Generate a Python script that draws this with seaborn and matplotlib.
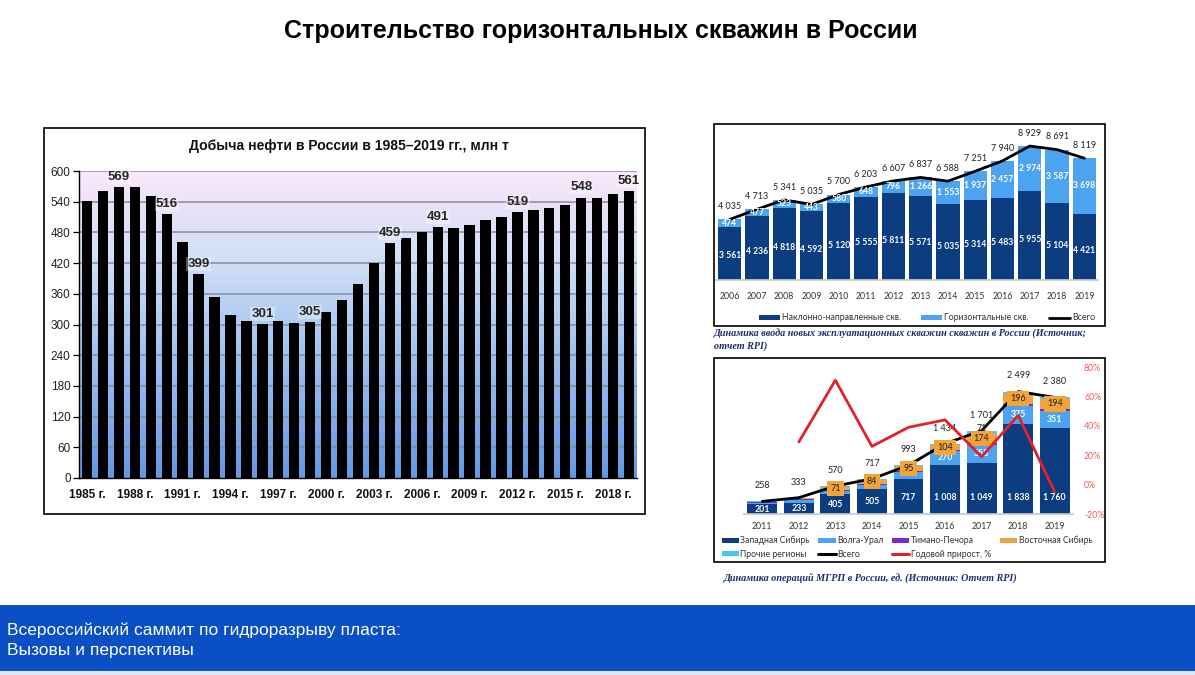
import numpy as np
import matplotlib
matplotlib.use("Agg")
import matplotlib.pyplot as plt
import seaborn as sns
from matplotlib.patches import Rectangle, Patch
from matplotlib.lines import Line2D
from matplotlib.colors import LinearSegmentedColormap

W, H = 1195, 675

# ---------------- data ----------------
oil_years = list(range(1985, 2020))
oil_output = [542, 561, 569, 569, 552, 516, 462, 399, 354, 318, 307, 301, 306, 303,
              305, 324, 348, 380, 421, 459, 470, 480, 491, 488, 494, 505, 511, 519,
              523, 527, 534, 548, 547, 556, 561]
oil_labeled_years = [1987, 1990, 1992, 1996, 1999, 2004, 2007, 2012, 2016, 2019]
oil_tick_years = list(range(1985, 2020, 3))
oil_yticks = list(range(0, 601, 60))

well_years = list(range(2006, 2020))
well_directional = [3561, 4236, 4818, 4592, 5120, 5555, 5811, 5571, 5035, 5314, 5483, 5955, 5104, 4421]
well_horizontal = [474, 477, 523, 443, 580, 648, 796, 1266, 1553, 1937, 2457, 2974, 3587, 3698]
well_total = [4035, 4713, 5341, 5035, 5700, 6203, 6607, 6837, 6588, 7251, 7940, 8929, 8691, 8119]

frac_years = list(range(2011, 2020))
frac_wsib = [201, 233, 405, 505, 717, 1008, 1049, 1838, 1760]
frac_volga = [31, 56, 65, 95, 150, 270, 358, 375, 351]
frac_timan = [8, 14, 18, 20, 12, 30, 49, 40, 40]
frac_esib = [12, 20, 71, 84, 95, 104, 174, 196, 194]
frac_other = [6, 10, 11, 13, 19, 22, 71, 50, 35]
frac_total = [258, 333, 570, 717, 993, 1434, 1701, 2499, 2380]
frac_volga_labeled = [2016, 2017, 2018, 2019]
frac_esib_labeled = [2013, 2014, 2015, 2016, 2017, 2018, 2019]
frac_other_labeled = [2017]
frac_growth_years = list(range(2012, 2020))
frac_growth = [29, 71, 26, 39, 44, 19, 47, -5]
growth_ticks = [-20, 0, 20, 40, 60, 80]

# ---------------- styles ----------------
sns.set_theme(style="white")
plt.rcParams['font.family'] = ['Liberation Sans', 'DejaVu Sans']

C_DARK = '#0b3d80'
C_LIGHT = '#4ca3ef'
C_PURPLE = '#7a2bd0'
C_ORANGE = '#f2a33a'
C_CYAN = '#45c9f0'
C_RED = '#e2202a'
CAP_COLOR = '#1d2d6b'
SMALL_FONT = ['Lato', 'DejaVu Sans']
SERIF = ['Liberation Serif', 'DejaVu Serif']


def rect(x0, y0, x1, y1):
    return [x0 / W, 1 - y1 / H, (x1 - x0) / W, (y1 - y0) / H]


def fmt(v):
    return f"{v:,}".replace(",", " ")


fig = plt.figure(figsize=(W / 100, H / 100), dpi=100)
fig.patch.set_facecolor('white')

# frames
for (x0, y0, x1, y1) in [(44, 128, 645, 514), (714, 124, 1105, 326), (714, 358, 1105, 562)]:
    fig.add_artist(Rectangle((x0 / W, 1 - y1 / H), (x1 - x0) / W, (y1 - y0) / H,
                             transform=fig.transFigure, fill=False,
                             edgecolor='black', lw=1.2))

# banner
fig.add_artist(Rectangle((0, 1 - 671 / H), 1, (671 - 605) / H, transform=fig.transFigure,
                         facecolor='#0a4fc5', edgecolor='none', zorder=0))
fig.add_artist(Rectangle((0, 0), 1, 4 / H, transform=fig.transFigure,
                         facecolor='#dde7f0', edgecolor='none', zorder=0))
fig.text(7 / W, 1 - 630 / H, "Всероссийский саммит по гидроразрыву пласта:",
         color='white', fontsize=12.5, va='center', ha='left')
fig.text(7 / W, 1 - 650 / H, "Вызовы и перспективы",
         color='white', fontsize=12.5, va='center', ha='left')

# main title
fig.text(601 / W, 1 - 31 / H, "Строительство горизонтальных скважин в России",
         ha='center', va='center', fontsize=18, fontweight='bold', color='black')

# ---------------- left chart ----------------
ax1 = fig.add_axes(rect(79, 171, 637, 478))
grad = LinearSegmentedColormap.from_list(
    'bg', [(0.0, '#6597e6'), (0.45, '#a6c6f1'), (0.72, '#d2e0f6'),
           (0.88, '#e8e2f7'), (1.0, '#fbe8fb')])
gimg = np.linspace(0, 1, 256).reshape(-1, 1)
ax1.imshow(gimg, cmap=grad, origin='lower', aspect='auto',
           extent=(-0.5, len(oil_years) - 0.5, 0, 600), zorder=0)
for yv in oil_yticks[1:]:
    ax1.axhline(yv, color='#8a8a9c', lw=1.1, zorder=1)
sns.barplot(x=oil_years, y=oil_output, color='black', saturation=1, width=0.65,
            ax=ax1, zorder=3, edgecolor='none')
for yr in oil_labeled_years:
    i = oil_years.index(yr)
    v = oil_output[i]
    ax1.annotate(str(v), (i, v), xytext=(0, 3), textcoords='offset points',
                 ha='center', va='bottom', fontsize=9.5, fontweight='bold', zorder=5,
                 bbox=dict(facecolor='white', alpha=0.35, edgecolor='none', pad=0.8))
ax1.set_xlim(-0.5, len(oil_years) - 0.5)
ax1.set_ylim(0, 600)
ax1.set_yticks(oil_yticks)
ax1.set_yticklabels([str(v) for v in oil_yticks], fontsize=8.5, color='#222222')
ax1.set_xticks([oil_years.index(y) for y in oil_tick_years])
ax1.set_xticklabels([f"{y} г." for y in oil_tick_years], fontsize=8.5,
                    fontweight='bold', color='#111111')
ax1.set_xticks(np.arange(-0.5, len(oil_years), 1), minor=True)
ax1.tick_params(axis='x', which='major', length=0, pad=8)
ax1.tick_params(axis='x', which='minor', length=4, width=0.9, color='black', direction='out')
ax1.tick_params(axis='y', length=4, width=0.9, color='black', direction='out', pad=2, left=True)
for s in ['top', 'right']:
    ax1.spines[s].set_visible(False)
for s in ['left', 'bottom']:
    ax1.spines[s].set_color('black')
    ax1.spines[s].set_linewidth(1.0)
ax1.set_xlabel('')
ax1.set_ylabel('')
fig.text(349 / W, 1 - 146 / H, "Добыча нефти в России в 1985–2019 гг., млн т",
         ha='center', va='center', fontsize=10.1, fontweight='bold', color='#111111')

# ---------------- top-right chart ----------------
ax2 = fig.add_axes(rect(716, 130, 1098, 280))
sns.barplot(x=well_years, y=well_directional, color=C_DARK, saturation=1, width=0.85,
            ax=ax2, edgecolor='none', zorder=2)
sns.barplot(x=well_years, y=well_horizontal, bottom=well_directional, color=C_LIGHT,
            saturation=1, width=0.85, ax=ax2, edgecolor='none', zorder=2)
pos2 = np.arange(len(well_years))
sns.lineplot(x=pos2, y=well_total, color='black', lw=2, ax=ax2, zorder=4)
for i in range(len(well_years)):
    d, h, t = well_directional[i], well_horizontal[i], well_total[i]
    ax2.text(i, d * 0.45, fmt(d), ha='center', va='center', color='white',
             fontsize=6.2, fontweight='bold', family=SMALL_FONT, zorder=5)
    ax2.text(i, d + h / 2, fmt(h), ha='center', va='center', color='white',
             fontsize=6.2, fontweight='bold', family=SMALL_FONT, zorder=5)
    ax2.annotate(fmt(t), (i, t), xytext=(0, 6), textcoords='offset points',
                 ha='center', va='bottom', color='#222222', fontsize=6.5,
                 family=SMALL_FONT, zorder=5)
ax2.set_xlim(-0.5, len(well_years) - 0.5)
ax2.set_ylim(0, 10000)
ax2.set_yticks([])
ax2.set_xticks(pos2)
ax2.set_xticklabels([str(y) for y in well_years], fontsize=6.3, color='#333333',
                    family=SMALL_FONT)
ax2.tick_params(axis='x', length=0, pad=9)
for s in ['top', 'right', 'left']:
    ax2.spines[s].set_visible(False)
ax2.spines['bottom'].set_color('#c8c8c8')
ax2.set_facecolor('none')
ax2.set_xlabel('')
ax2.set_ylabel('')
h2 = [Patch(facecolor=C_DARK, edgecolor='none'), Patch(facecolor=C_LIGHT, edgecolor='none'),
      Line2D([0], [0], color='black', lw=2)]
fig.legend(h2, ["Наклонно-направленные скв.", "Горизонтальные скв.", "Всего"],
           loc='center', bbox_to_anchor=(927 / W, 1 - 318 / H), ncol=3, frameon=False,
           prop={'family': SMALL_FONT, 'size': 6.3}, handlelength=2.4, handleheight=0.6,
           columnspacing=2.2, handletextpad=0.3, labelcolor='#333333')
fig.text(714 / W, 1 - 334 / H,
         "Динамика ввода новых эксплуатационных скважин скважин в России (Источник;",
         family=SERIF, style='italic', fontweight='bold',
         color=CAP_COLOR, fontsize=7.25, va='center', ha='left')
fig.text(714 / W, 1 - 346 / H, "отчет RPI)",
         family=SERIF, style='italic', fontweight='bold',
         color=CAP_COLOR, fontsize=7.25, va='center', ha='left')

# ---------------- bottom-right chart ----------------
ax3 = fig.add_axes(rect(744, 367, 1073, 514))
b_ws = np.array(frac_wsib)
b_vu = b_ws + np.array(frac_volga)
b_tp = b_vu + np.array(frac_timan)
b_es = b_tp + np.array(frac_esib)
series = [(frac_wsib, None, C_DARK), (frac_volga, b_ws, C_LIGHT), (frac_timan, b_vu, C_PURPLE),
          (frac_esib, b_tp, C_ORANGE), (frac_other, b_es, C_CYAN)]
for vals, bot, col in series:
    kw = {} if bot is None else {'bottom': bot}
    sns.barplot(x=frac_years, y=vals, color=col, saturation=1, width=0.82, ax=ax3,
                edgecolor='none', zorder=2, **kw)
pos3 = np.arange(len(frac_years))
sns.lineplot(x=pos3, y=frac_total, color='black', lw=2, ax=ax3, zorder=4)
for i, yr in enumerate(frac_years):
    ws = frac_wsib[i]
    ax3.text(i, min(ws / 2, 340), fmt(ws), ha='center', va='center', color='white',
             fontsize=6.3, fontweight='bold', family=SMALL_FONT, zorder=6)
    if yr in frac_volga_labeled:
        ax3.text(i, b_ws[i] + frac_volga[i] / 2, fmt(frac_volga[i]), ha='center', va='center',
                 color='white', fontsize=6.3, fontweight='bold', family=SMALL_FONT, zorder=6)
    if yr in frac_esib_labeled:
        ax3.text(i, b_tp[i] + frac_esib[i] / 2, fmt(frac_esib[i]), ha='center', va='center',
                 color='#222222', fontsize=6.5, family=SMALL_FONT, zorder=6,
                 bbox=dict(facecolor=C_ORANGE, edgecolor='none',
                           boxstyle='square,pad=0.35'))
    if yr in frac_other_labeled:
        ax3.annotate(fmt(frac_other[i]), (i, b_es[i] + frac_other[i] / 2), xytext=(0, 3),
                     textcoords='offset points', ha='center', va='center',
                     color='#222222', fontsize=6.3, family=SMALL_FONT, zorder=6)
    ax3.annotate(fmt(frac_total[i]), (i, frac_total[i]), xytext=(0, 8),
                 textcoords='offset points', ha='center', va='bottom', color='#222222',
                 fontsize=6.5, family=SMALL_FONT, zorder=6)
ax3.set_xlim(-0.5, len(frac_years) - 0.5)
ax3.set_ylim(0, 3000)
ax3.set_yticks([])
ax3.set_xticks(pos3)
ax3.set_xticklabels([str(y) for y in frac_years], fontsize=6.3, color='#333333',
                    family=SMALL_FONT)
ax3.tick_params(axis='x', length=0, pad=6)
for s in ['top', 'right', 'left']:
    ax3.spines[s].set_visible(False)
ax3.spines['bottom'].set_color('#c8c8c8')
ax3.set_facecolor('none')
ax3.set_xlabel('')
ax3.set_ylabel('')

ax3r = ax3.twinx()
gpos = np.array([frac_years.index(y) for y in frac_growth_years])
sns.lineplot(x=gpos, y=frac_growth, color=C_RED, lw=2, ax=ax3r, zorder=5)
ax3r.set_ylim(-20, 80)
ax3r.set_yticks(growth_ticks)
ax3r.set_yticklabels([f"{v}%" for v in growth_ticks], fontsize=6.3, color='#e8605a',
                     family=SMALL_FONT)
ax3r.tick_params(axis='y', length=0, pad=8)
for s in ax3r.spines.values():
    s.set_visible(False)
ax3r.set_ylabel('')

h3 = {
    'ws': Patch(facecolor=C_DARK, edgecolor='none'),
    'vu': Patch(facecolor=C_LIGHT, edgecolor='none'),
    'tp': Patch(facecolor=C_PURPLE, edgecolor='none'),
    'es': Patch(facecolor=C_ORANGE, edgecolor='none'),
    'ot': Patch(facecolor=C_CYAN, edgecolor='none'),
    'tot': Line2D([0], [0], color='black', lw=2.2),
    'gr': Line2D([0], [0], color=C_RED, lw=2.2),
}
names = {'ws': "Западная Сибирь", 'vu': "Волга-Урал", 'tp': "Тимано-Печора",
         'es': "Восточная Сибирь", 'ot': "Прочие регионы", 'tot': "Всего",
         'gr': "Годовой прирост, %"}
order = ['ws', 'ot', 'vu', 'tot', 'tp', 'gr', 'es']
fig.legend([h3[k] for k in order], [names[k] for k in order], loc='center',
           bbox_to_anchor=(907 / W, 1 - 547.5 / H), ncol=4, frameon=False,
           prop={'family': SMALL_FONT, 'size': 6.2}, handlelength=2.0, handleheight=0.6,
           columnspacing=1.0, handletextpad=0.2, labelspacing=0.5, labelcolor='#333333')
fig.text(724 / W, 1 - 578 / H, "Динамика операций МГРП в России, ед. (Источник: Отчет RPI)",
         family=SERIF, style='italic', fontweight='bold',
         color=CAP_COLOR, fontsize=7.25, va='center', ha='left')

fig.savefig('out.png', dpi=100)
